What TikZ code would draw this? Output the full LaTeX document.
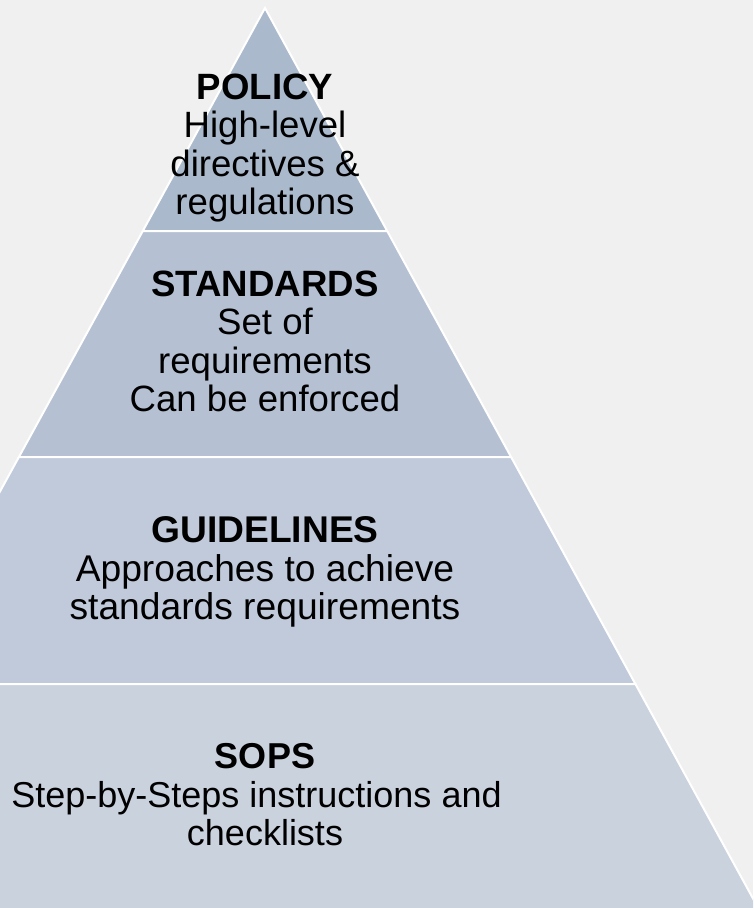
\documentclass[tikz,border=0pt]{standalone}
\usepackage{fontspec}
\setmainfont{Liberation Sans}
\definecolor{bgcol}{RGB}{240,240,240}
\definecolor{tierA}{RGB}{171,185,204}
\definecolor{tierB}{RGB}{181,193,211}
\definecolor{tierC}{RGB}{192,202,218}
\definecolor{tierD}{RGB}{202,210,222}
% centred block of lines whose baseline is that of its first line
\newcommand{\tierlines}[1]{\begin{tabular}[t]{@{}c@{}}#1\end{tabular}}
\begin{document}
\begin{tikzpicture}[x=1pt,y=-1pt,
  tier/.style={draw=white, line width=2pt, line join=miter},
  tiertext/.style={font=\fontsize{36.6}{38.5}\selectfont,
    inner sep=0pt, anchor=base, text=black}]
% canvas
\useasboundingbox (0,0) rectangle (753,908);
\fill[bgcol] (0,0) rectangle (753,908);
\begin{scope}
\clip (0,0) rectangle (753,908);
% corner points of the pyramid tiers
\coordinate (apex) at (265,8);
\coordinate (l1) at (142.8,231);  \coordinate (r1) at (387.2,231);
\coordinate (l2) at (18.9,457);   \coordinate (r2) at (511.1,457);
\coordinate (l3) at (-105.4,684); \coordinate (r3) at (635.4,684);
\coordinate (l4) at (-237.5,925); \coordinate (r4) at (767.5,925);
\filldraw[tier, fill=tierA] (apex) -- (r1) -- (l1) -- cycle;
\filldraw[tier, fill=tierB] (l1) -- (r1) -- (r2) -- (l2) -- cycle;
\filldraw[tier, fill=tierC] (l2) -- (r2) -- (r3) -- (l3) -- cycle;
\filldraw[tier, fill=tierD] (l3) -- (r3) -- (r4) -- (l4) -- cycle;
\end{scope}
% tier captions
\node[tiertext] (policy) at (265,99)
  {\tierlines{\textbf{POLICY}\\High-level\\directives \&\\regulations}};
\node[tiertext] (standards) at (265,296)
  {\tierlines{\textbf{STANDARDS}\\Set of\\requirements\\Can be enforced}};
\node[tiertext, font=\fontsize{37.2}{38.5}\selectfont] (guidelines) at (265,542.5)
  {\tierlines{\textbf{GUIDELINES}\\Approaches to achieve\\standards requirements}};
\node[tiertext, font=\fontsize{36}{38.5}\selectfont] (sops) at (265,768.5)
  {\tierlines{\textbf{SOPS}\\Step-by-Steps instructions and\hspace*{17pt}\\checklists}};
\end{tikzpicture}
\end{document}
